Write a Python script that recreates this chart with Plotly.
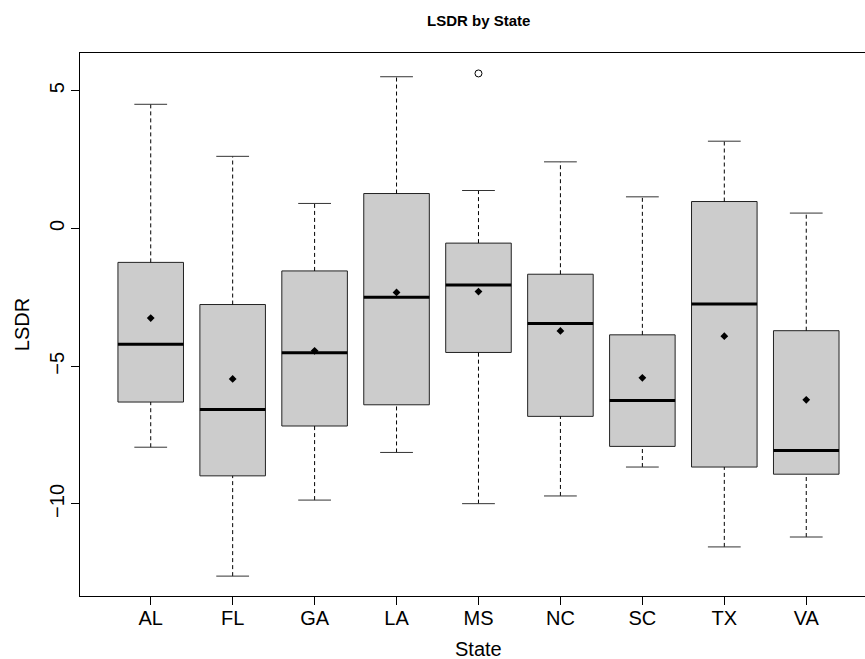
import plotly.graph_objects as go

# Summary statistics of LSDR per state
states = ["AL", "FL", "GA", "LA", "MS", "NC", "SC", "TX", "VA"]
lower_whisker = [-7.94, -12.62, -9.86, -8.13, -9.99, -9.71, -8.66, -11.56, -11.20]
q1 = [-6.30, -8.98, -7.17, -6.40, -4.50, -6.82, -7.91, -8.66, -8.92]
median = [-4.20, -6.57, -4.51, -2.50, -2.05, -3.45, -6.24, -2.74, -8.06]
q3 = [-1.23, -2.76, -1.54, 1.27, -0.53, -1.66, -3.86, 0.98, -3.71]
upper_whisker = [4.51, 2.62, 0.91, 5.51, 1.38, 2.42, 1.15, 3.17, 0.56]
means = [-3.25, -5.46, -4.44, -2.32, -2.29, -3.72, -5.42, -3.91, -6.22]
outlier_states = ["MS"]
outlier_values = [5.63]

positions = list(range(1, len(states) + 1))
box_half = 0.4
cap_half = 0.2
FONT = "Liberation Sans, Arial, Helvetica, sans-serif"

fig = go.Figure()

# Boxes (Q1..Q3) as filled polygons
bx, by = [], []
for p, lo, hi in zip(positions, q1, q3):
    bx += [p - box_half, p + box_half, p + box_half, p - box_half, p - box_half, None]
    by += [lo, lo, hi, hi, lo, None]
fig.add_trace(go.Scatter(x=bx, y=by, mode="lines", fill="toself",
                         fillcolor="#CCCCCC", line=dict(color="#222222", width=1),
                         hoverinfo="skip", showlegend=False))

# Dashed whiskers
wx, wy = [], []
for p, lo, a, b, hi in zip(positions, lower_whisker, q1, q3, upper_whisker):
    wx += [p, p, None, p, p, None]
    wy += [b, hi, None, lo, a, None]
fig.add_trace(go.Scatter(x=wx, y=wy, mode="lines",
                         line=dict(color="black", width=1, dash="4px,3px"),
                         hoverinfo="skip", showlegend=False))

# Whisker caps
cx, cy = [], []
for p, lo, hi in zip(positions, lower_whisker, upper_whisker):
    cx += [p - cap_half, p + cap_half, None, p - cap_half, p + cap_half, None]
    cy += [hi, hi, None, lo, lo, None]
fig.add_trace(go.Scatter(x=cx, y=cy, mode="lines",
                         line=dict(color="#333333", width=1),
                         hoverinfo="skip", showlegend=False))

# Median lines
mx, my = [], []
for p, m in zip(positions, median):
    mx += [p - box_half, p + box_half, None]
    my += [m, m, None]
fig.add_trace(go.Scatter(x=mx, y=my, mode="lines",
                         line=dict(color="black", width=3),
                         hoverinfo="skip", showlegend=False))

# Means
fig.add_trace(go.Scatter(x=positions, y=means, mode="markers",
                         marker=dict(symbol="diamond", size=6, color="black"),
                         hoverinfo="skip", showlegend=False))

# Outliers
ox = [positions[states.index(s)] for s in outlier_states]
fig.add_trace(go.Scatter(x=ox, y=outlier_values, mode="markers",
                         marker=dict(symbol="circle-open", size=7,
                                     color="black", line=dict(width=1)),
                         hoverinfo="skip", showlegend=False))

fig.update_layout(
    width=865, height=659,
    margin=dict(l=80, r=0, t=53, b=63),
    plot_bgcolor="white", paper_bgcolor="white",
    font=dict(family=FONT, size=20, color="black"),
    xaxis=dict(range=[0.137, 9.717], tickvals=positions, ticktext=states,
               showgrid=False, zeroline=False,
               showline=True, mirror=True, linecolor="black", linewidth=1,
               ticks="outside", ticklen=8, tickcolor="black", tickwidth=1,
               ticklabelstandoff=-4),
    yaxis=dict(range=[-13.342, 6.372], tickvals=[-10, -5, 0, 5],
               showgrid=False, zeroline=False,
               showline=True, linecolor="black", linewidth=1,
               ticks="outside", ticklen=8, tickcolor="black", tickwidth=1,
               tickangle=-90, ticklabelstandoff=-1),
    annotations=[
        dict(text="<b>LSDR by State</b>", x=5, xref="x", y=1.0607, yref="paper",
             xanchor="center", yanchor="middle", showarrow=False,
             font=dict(family=FONT, size=15)),
        dict(text="State", x=5, xref="x", y=-0.098, yref="paper",
             xanchor="center", yanchor="middle", showarrow=False,
             font=dict(family=FONT, size=20)),
        dict(text="LSDR", x=-0.0743, xref="paper", y=0.5, yref="paper",
             xanchor="center", yanchor="middle", textangle=-90, showarrow=False,
             font=dict(family=FONT, size=20)),
    ],
)

fig.write_html("out.html")
